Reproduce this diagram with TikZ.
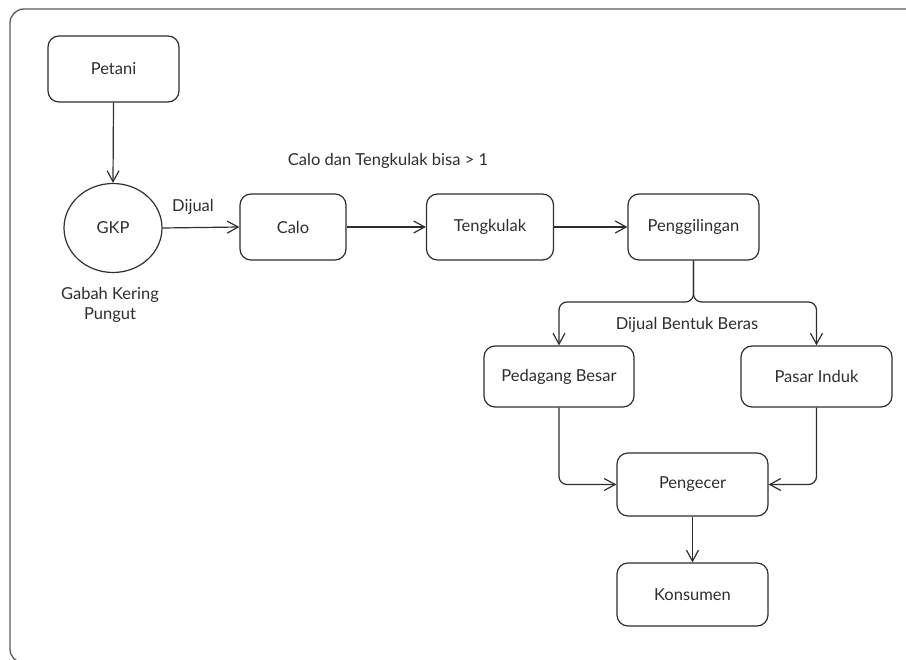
\documentclass[tikz,border=0pt]{standalone}
\usepackage{fontspec}
\setmainfont{Lato}
\usetikzlibrary{arrows.meta,shapes.geometric}

\definecolor{ink}{HTML}{2E2E2E}
\definecolor{frame}{HTML}{5A5A5A}

\tikzset{
  flowbox/.style={draw=ink, line width=1.2pt, rounded corners=11pt, align=center,
    inner sep=0pt, text=ink, font=\fontsize{16.5}{20}\selectfont},
  flowtext/.style={text=ink, align=center, inner sep=0pt, font=\fontsize{16.5}{20.5}\selectfont},
  flowarrow/.style={draw=ink, line width=1.2pt,
    -{Straight Barb[length=11pt,width=12pt,line width=1.2pt]}},
}

\begin{document}
\begin{tikzpicture}[x=1pt,y=-1pt]
  \useasboundingbox (0,0) rectangle (906,660);
  \begin{scope}
    \clip (0,0) rectangle (906,660);
    \draw[frame, line width=1.3pt, rounded corners=14pt] (10,9) rectangle (940,663);
  \end{scope}

  % nodes
  \node[flowbox, minimum width=131pt, minimum height=66pt] (petani) at (113.5,69) {Petani};
  \node[draw=ink, line width=1.2pt, ellipse, minimum width=98pt, minimum height=89pt,
        text=ink, font=\fontsize{16.5}{20}\selectfont, inner sep=0pt] (gkp) at (113,228) {GKP};
  \node[flowtext] (gkplabel) at (110,305) {Gabah Kering\\Pungut};
  \node[flowbox, minimum width=106pt, minimum height=66pt] (calo) at (293,227) {Calo};
  \node[flowbox, minimum width=127pt, minimum height=66pt] (tengkulak) at (490,227) {Tengkulak};
  \node[flowbox, minimum width=131pt, minimum height=66pt] (giling) at (693.5,227) {Penggilingan};
  \node[flowtext] (note) at (388,161) {Calo dan Tengkulak bisa > 1};
  \node[flowtext] (dijual) at (193,207) {Dijual};
  \node[flowbox, minimum width=150pt, minimum height=61pt] (besar) at (559,376.5) {Pedagang Besar};
  \node[flowbox, minimum width=151pt, minimum height=61pt] (induk) at (816.5,376.5) {Pasar Induk};
  \node[flowtext] (beras) at (687,325) {Dijual Bentuk Beras};
  \node[flowbox, minimum width=151pt, minimum height=63pt] (ecer) at (692.5,484.5) {Pengecer};
  \node[flowbox, minimum width=151pt, minimum height=63pt] (konsumen) at (692.5,594.5) {Konsumen};

  \coordinate (split) at (693,302);

  % connectors
  \draw[flowarrow] (petani.south) -- (gkp.north);
  \draw[flowarrow] (gkp.east) -- (calo.west);
  \draw[flowarrow] (calo.east) -- (tengkulak.west);
  \draw[flowarrow] (tengkulak.east) -- (giling.west);
  \draw[flowarrow, rounded corners=8pt] (giling.south) |- (besar.north |- split) -- (besar.north);
  \draw[flowarrow, rounded corners=8pt] (giling.south) |- (induk.north |- split) -- (induk.north);
  \draw[flowarrow, rounded corners=8pt] (besar.south) |- (ecer.west);
  \draw[flowarrow, rounded corners=8pt] (induk.south) |- (ecer.east);
  \draw[flowarrow] (ecer.south) -- (konsumen.north);
\end{tikzpicture}
\end{document}
